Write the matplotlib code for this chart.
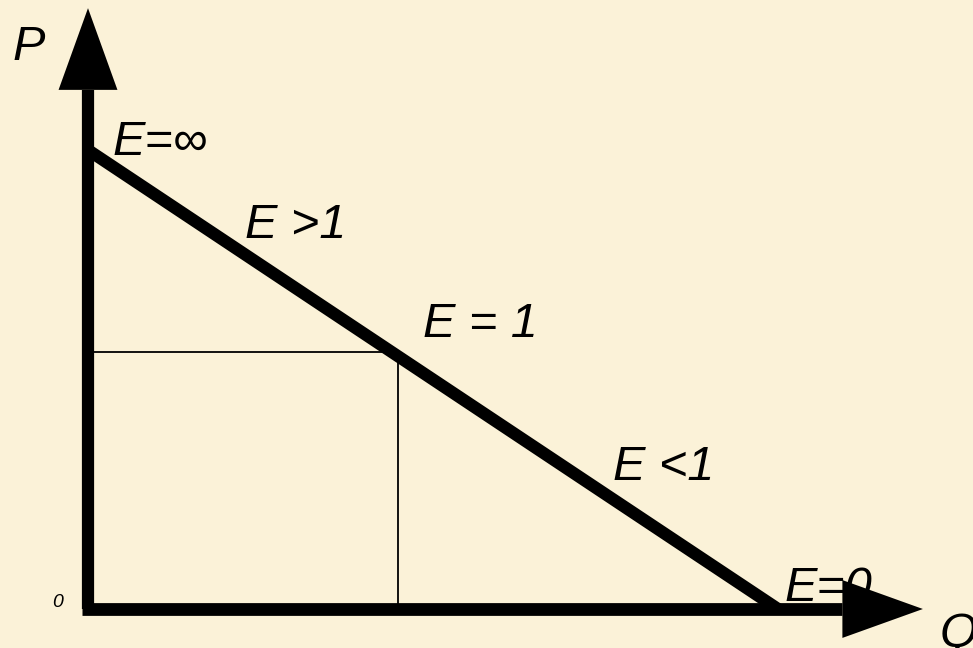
import matplotlib
matplotlib.use("Agg")
import matplotlib.pyplot as plt

# ---- data (economic units) ----
demand_q = [0.0, 15.0]          # quantity at the two ends of the demand line
demand_p = [10.0, 0.0]          # price at the two ends of the demand line
ref_q = 6.74                    # point E = 1 (reference lines)
ref_p = 5.6
label_texts = ["E=\u221e", "E >1", "E = 1", "E <1", "E=0"]
label_q = [0.54, 3.41, 7.28, 11.41, 15.15]
label_p = [9.89, 8.08, 5.93, 2.81, 0.17]

# ---- layout (pixel scale) ----
W, H = 973, 648
ORIGIN_X, ORIGIN_Y = 88, 609
PX_Q, PX_P = 46.0, 45.9
BG = "#FBF2D8"

fig = plt.figure(figsize=(W / 100, H / 100), dpi=100, facecolor=BG)
ax = fig.add_axes([0, 0, 1, 1])
ax.set_facecolor(BG)
ax.set_xlim(-ORIGIN_X / PX_Q, (W - ORIGIN_X) / PX_Q)
ax.set_ylim(-(H - ORIGIN_Y) / PX_P, ORIGIN_Y / PX_P)
ax.axis("off")

font = dict(family=["Liberation Sans", "DejaVu Sans"], style="italic", color="black")

# axes lines
v_top = 11.31
h_right = 16.4
ax.plot([0, 0], [-0.0, v_top], color="black", lw=8.8, solid_capstyle="butt", zorder=3)
ax.plot([-0.13, h_right], [0, 0], color="black", lw=9.2, solid_capstyle="butt", zorder=3)
# arrow heads
ax.fill([0, -0.64, 0.64], [13.09, v_top, v_top], color="black", lw=0, zorder=5)
ax.fill([18.15, h_right, h_right], [0, 0.63, -0.63], color="black", lw=0, zorder=5)

# demand line
ax.plot(demand_q, demand_p, color="black", lw=8.8, solid_capstyle="butt", zorder=2)

# reference lines at E = 1
ax.plot([0, ref_q - 0.2], [ref_p, ref_p], color="black", lw=1.3, zorder=1)
ax.plot([ref_q, ref_q], [0, ref_p - 0.15], color="black", lw=1.3, zorder=1)

# labels
for t, q, p in zip(label_texts, label_q, label_p):
    ax.text(q, p, t, fontsize=35, ha="left", va="baseline", zorder=4, **font)

ax.text(-1.65, 11.96, "P", fontsize=35, ha="left", va="baseline", **font)
ax.text(18.52, -0.83, "Q", fontsize=35, ha="left", va="baseline", **font)
ax.text(-0.78, 0.04, "0", fontsize=14, ha="left", va="baseline", **font)

fig.savefig("out.png", dpi=100, facecolor=BG)
